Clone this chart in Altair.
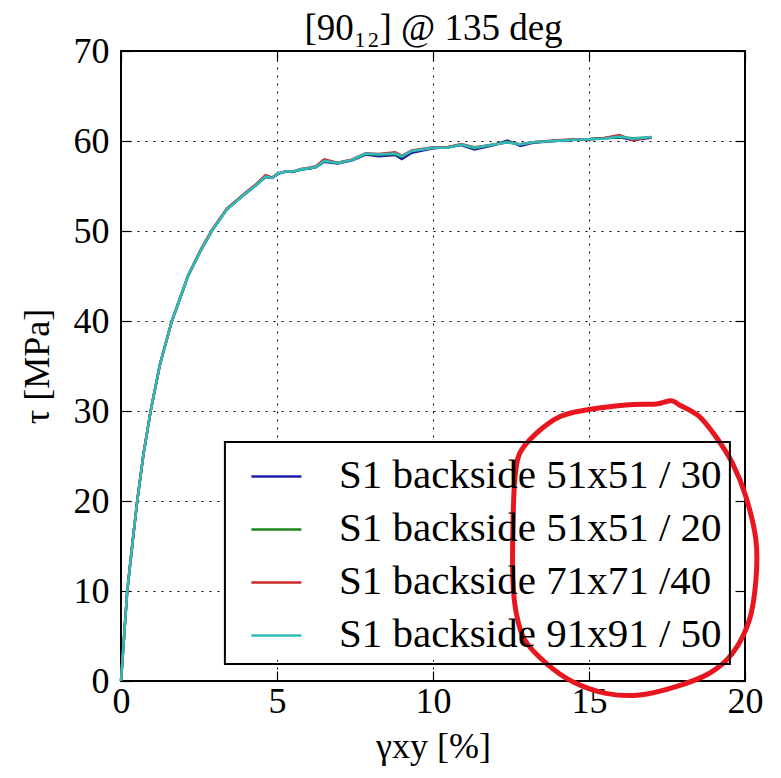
import altair as alt
import pandas as pd

# ---- data ----
strain = [0, 0.1, 0.2, 0.37, 0.52, 0.72, 0.95, 1.25, 1.63, 2.16,
          2.55, 2.91, 3.39, 3.93, 4.3, 4.63, 4.84, 5.03, 5.3, 5.51,
          5.77, 6.07, 6.25, 6.51, 6.94, 7.41, 7.84, 8.26, 8.79, 9.0,
          9.32, 10.0, 10.48, 10.9, 11.33, 11.96, 12.39, 12.8, 13.2, 13.87,
          14.5, 15.0, 15.45, 15.98, 16.4, 17.0]

tau_51_30 = [0, 5.0, 10, 15.4, 20, 25.2, 30, 35.2, 40, 45.1,
             47.8, 50, 52.4, 54, 55.0, 56.0, 55.9, 56.35, 56.6, 56.55,
             56.85, 56.95, 57.1, 57.7, 57.5, 57.85, 58.5, 58.3, 58.45, 58.0,
             58.7, 59.2, 59.3, 59.55, 59.05, 59.55, 60.05, 59.45, 59.8, 60.0,
             60.1, 60.2, 60.3, 60.4, 60.1, 60.35]
tau_51_20 = [0, 5.0, 10, 15.4, 20, 25.2, 30, 35.2, 40, 45.1,
             47.8, 50, 52.4, 54, 55.05, 56.1, 55.9, 56.4, 56.6, 56.6,
             56.8, 57.0, 57.1, 57.75, 57.55, 57.9, 58.55, 58.5, 58.55, 58.25,
             58.9, 59.25, 59.3, 59.6, 59.2, 59.6, 59.9, 59.6, 59.85, 60.0,
             60.15, 60.2, 60.3, 60.45, 60.3, 60.4]
tau_71_40 = [0, 5.0, 10, 15.4, 20, 25.2, 30, 35.2, 40, 45.1,
             47.9, 50.1, 52.5, 54.1, 55.1, 56.2, 55.95, 56.4, 56.65, 56.6,
             56.9, 57.05, 57.2, 57.95, 57.6, 57.95, 58.65, 58.55, 58.75, 58.35,
             58.95, 59.3, 59.3, 59.65, 59.3, 59.6, 59.85, 59.65, 59.85, 60.05,
             60.2, 60.2, 60.3, 60.65, 60.1, 60.45]
tau_91_50 = [0, 5.0, 10, 15.4, 20, 25.2, 30, 35.2, 40, 45.1,
             47.8, 50, 52.4, 54, 55.0, 56.05, 55.9, 56.4, 56.6, 56.6,
             56.85, 57.0, 57.1, 57.8, 57.55, 57.9, 58.6, 58.5, 58.6, 58.3,
             58.9, 59.26, 59.26, 59.6, 59.26, 59.6, 59.85, 59.6, 59.85, 60.0,
             60.15, 60.2, 60.26, 60.5, 60.26, 60.44]

series_names = ["S1 backside 51x51 / 30", "S1 backside 51x51 / 20",
                "S1 backside 71x71 /40", "S1 backside 91x91 / 50"]
series_values = [tau_51_30, tau_51_20, tau_71_40, tau_91_50]
series_colors = ["#1c1ca8", "#1e841e", "#cc2a2a", "#2cbcbc"]

# hand-drawn red loop (annotation), in data units
ann_x = [19.07, 19.60, 20.03, 20.35, 20.35, 20.14, 19.60, 18.86, 17.79, 16.62,
         15.55, 14.48, 13.63, 12.94, 12.67, 12.56, 12.56, 12.62, 12.78, 13.31,
         14.06, 14.91, 16.19, 17.15, 17.63, 17.90, 18.54, 19.07]
ann_y = [27.14, 24.19, 20.48, 15.67, 11.22, 6.78, 3.08, 0.86, -0.63, -1.56,
         -1.37, -0.08, 1.97, 4.56, 7.52, 11.22, 16.78, 22.33, 25.30, 27.52,
         29.37, 30.11, 30.67, 30.78, 31.14, 30.67, 29.37, 27.14]

title_text = "[90₁₂] @ 135 deg"
x_title = "γxy [%]"
y_title = "τ [MPa]"

legend_box_x = [3.33, 19.6]
legend_box_y = [2.33, 26.56]

x_ticks = [0, 5, 10, 15, 20]
y_ticks = [0, 10, 20, 30, 40, 50, 60, 70]

# ---- layout ----
W, H = 624, 630
X_MAX, Y_MAX = 20, 70
SERIF = "Liberation Serif"

rows = []
for name, ys in zip(series_names, series_values):
    for xv, yv in zip(strain, ys):
        rows.append({"strain": xv, "tau": yv, "series": name})
df = pd.DataFrame(rows)

ann_df = pd.DataFrame({"x": ann_x, "y": ann_y, "i": list(range(len(ann_x)))})
mask_df = pd.DataFrame({"x1": [legend_box_x[0]], "x2": [legend_box_x[1]],
                        "y1": [legend_box_y[0]], "y2": [legend_box_y[1]]})

xscale = alt.Scale(domain=[0, X_MAX], nice=False, zero=False)
yscale = alt.Scale(domain=[0, Y_MAX], nice=False, zero=False)
cscale = alt.Scale(domain=series_names, range=series_colors)

grid_style = dict(gridColor="black", gridDash=[2, 6], gridWidth=1, gridOpacity=1)

main_x = alt.Axis(values=x_ticks, grid=True, ticks=False, tickSize=0, domain=False,
                  labelFont=SERIF, labelFontSize=36, labelColor="black", labelPadding=3,
                  labelFlush=False, labelOverlap=False, format="d",
                  title=x_title, titleFont=SERIF, titleFontSize=36,
                  titleFontWeight="normal", titleColor="black",
                  titleBaseline="middle", titleAlign="center", titleX=W / 2, titleY=65,
                  **grid_style)
main_y = alt.Axis(values=y_ticks, grid=True, ticks=False, tickSize=0, domain=False,
                  labelFont=SERIF, labelFontSize=36, labelColor="black", labelPadding=12,
                  labelFlush=False, labelOverlap=False, format="d",
                  title=y_title, titleFont=SERIF, titleFontSize=36,
                  titleFontWeight="normal", titleColor="black", titleAngle=270,
                  titleBaseline="middle", titleAlign="center", titleX=-84, titleY=H / 2,
                  **grid_style)

TICK = 10


def tick_axis(orient, vals, **extra):
    return alt.Axis(orient=orient, values=vals, grid=False, labels=False, domain=False,
                    ticks=True, tickSize=TICK, tickWidth=1.2, tickColor="black",
                    offset=-TICK, **extra)


# top tick axis also carries the chart title
top_axis = tick_axis("top", x_ticks, title=title_text, titleFont=SERIF, titleFontSize=37,
                     titleFontWeight="normal", titleColor="black", titleAlign="center",
                     titleBaseline="alphabetic", titleX=W / 2, titleY=-12 - TICK)

legend = alt.Legend(title=None, orient="none",
                    legendX=legend_box_x[0] / X_MAX * W,
                    legendY=(Y_MAX - legend_box_y[1]) / Y_MAX * H,
                    labelFont=SERIF, labelFontSize=41, labelColor="black", labelLimit=0,
                    labelExpr="datum.label + '\u2009'",
                    labelOffset=36, symbolType="stroke", symbolSize=2500,
                    symbolStrokeWidth=2.5, symbolOffset=17, padding=8, rowPadding=6,
                    strokeColor="black", fillColor="transparent", cornerRadius=0)

mask = alt.Chart(mask_df).mark_rect(fill="white").encode(
    x=alt.X("x1:Q", scale=xscale, axis=main_x), x2="x2",
    y=alt.Y("y1:Q", scale=yscale, axis=main_y), y2="y2")


def series_layer(name, xaxis, yaxis):
    return alt.Chart(df).transform_filter(alt.datum.series == name).mark_line(
        strokeWidth=2.5).encode(
        x=alt.X("strain:Q", scale=xscale, axis=xaxis),
        y=alt.Y("tau:Q", scale=yscale, axis=yaxis),
        color=alt.Color("series:N", scale=cscale, legend=legend))


l_blue = series_layer(series_names[0], tick_axis("bottom", x_ticks, title=None),
                      tick_axis("left", y_ticks, title=None))
l_green = series_layer(series_names[1], top_axis, tick_axis("right", y_ticks, title=None))
l_red = series_layer(series_names[2], None, None)
l_cyan = series_layer(series_names[3], None, None)

loop = alt.Chart(ann_df).mark_line(color="#e8161e", strokeWidth=5, interpolate="cardinal",
                                   strokeCap="round", strokeJoin="round").encode(
    x=alt.X("x:Q", scale=xscale, axis=None),
    y=alt.Y("y:Q", scale=yscale, axis=None),
    order="i:Q")

chart = alt.layer(mask, l_blue, l_green, l_red, l_cyan, loop).resolve_axis(
    x="independent", y="independent").properties(
    width=W, height=H,
    padding={"left": 113, "top": 43, "right": 20, "bottom": 93},
    autosize=alt.AutoSizeParams(type="none"),
).configure_view(stroke="black", strokeWidth=2).configure_legend(strokeWidth=2)

chart.save("out.html", embed_options={"renderer": "svg", "actions": False})
